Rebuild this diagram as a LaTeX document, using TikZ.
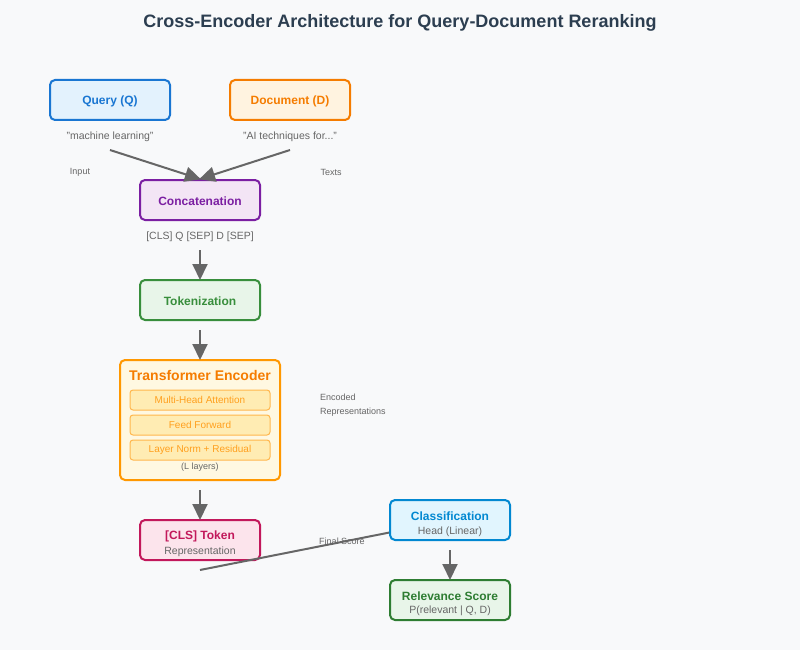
\documentclass[tikz,border=0pt]{standalone}
\usepackage{fontspec}
\setmainfont{Liberation Sans}
\usetikzlibrary{arrows.meta}
\definecolor{bg}{HTML}{F8F9FA}
\definecolor{titlec}{HTML}{2C3E50}
\definecolor{gr}{HTML}{666666}
\definecolor{qfill}{HTML}{E3F2FD}\definecolor{qline}{HTML}{1976D2}
\definecolor{dfill}{HTML}{FFF3E0}\definecolor{dline}{HTML}{F57C00}
\definecolor{cfill}{HTML}{F3E5F5}\definecolor{cline}{HTML}{7B1FA2}
\definecolor{tfill}{HTML}{E8F5E9}\definecolor{tline}{HTML}{388E3C}
\definecolor{efill}{HTML}{FFF8E1}\definecolor{eline}{HTML}{FF9800}
\definecolor{sfill}{HTML}{FFECB3}\definecolor{sline}{HTML}{FFB74D}\definecolor{stext}{HTML}{FFA01E}
\definecolor{kfill}{HTML}{FCE4EC}\definecolor{kline}{HTML}{C2185B}
\definecolor{hfill}{HTML}{E1F5FE}\definecolor{hline}{HTML}{0288D1}
\definecolor{rfill}{HTML}{E8F5E9}\definecolor{rline}{HTML}{2E7D32}
\begin{document}
\begin{tikzpicture}[x=1pt,y=-1pt,
  box/.style={draw, line width=2pt, rounded corners=5pt, minimum width=120pt, minimum height=40pt, inner sep=0pt, align=center},
  lbl/.style={font=\fontsize{12}{14}\selectfont\bfseries, inner sep=0pt},
  note/.style={text=gr, font=\fontsize{10.5}{12}\selectfont, inner sep=0pt},
  small/.style={text=gr, font=\fontsize{9}{11}\selectfont, inner sep=0pt},
  sub/.style={draw=sline, fill=sfill, line width=1pt, rounded corners=3pt, minimum width=140pt, minimum height=20pt, inner sep=0pt, text=stext, font=\fontsize{10}{12}\selectfont},
  arr/.style={draw=gr, line width=2pt, -{Triangle[length=16pt,width=15pt]}, shorten >=-1pt}
]
\useasboundingbox (0,0) rectangle (800,650);
\fill[bg] (0,0) rectangle (800,650);
\node[text=titlec, font=\fontsize{18}{22}\selectfont\bfseries] (title) at (400,23) {Cross-Encoder Architecture for Query-Document Reranking};

\node[box, draw=qline, fill=qfill] (q) at (110,100) {};
\node[lbl, text=qline] (qn) at (110,101) {Query (Q)};
\node[box, draw=dline, fill=dfill] (d) at (290,100) {};
\node[lbl, text=dline] (dn) at (290,101) {Document (D)};
\node[note] (qt) at (110,137) {"machine learning"};
\node[note] (dt) at (290,137) {"AI techniques for..."};
\node[small] (inp) at (80,172) {Input};
\node[small] (txt) at (331,172) {Texts};

\node[box, draw=cline, fill=cfill] (cc) at (200,200) {};
\node[lbl, text=cline] (ccn) at (200,201) {Concatenation};
\coordinate (qs) at (110,150);
\coordinate (ds) at (290,150);
\draw[arr] (qs) -- (cc.north);
\draw[arr] (ds) -- (cc.north);
\node[note] (seq) at (200,237) {[CLS] Q [SEP] D [SEP]};

\node[box, draw=tline, fill=tfill] (tok) at (200,300) {};
\node[lbl, text=tline] (tokn) at (200,301) {Tokenization};
\coordinate (a1) at (200,250);
\draw[arr] (a1) -- (tok.north);

\node[box, draw=eline, fill=efill, minimum width=160pt, minimum height=120pt] (enc) at (200,420) {};
\node[text=dline, font=\fontsize{14}{16}\selectfont\bfseries, inner sep=0pt] (enct) at (200,375) {Transformer Encoder};
\node[sub] (mha) at (200,400) {Multi-Head Attention};
\node[sub] (ff) at (200,425) {Feed Forward};
\node[sub] (ln) at (200,450) {Layer Norm + Residual};
\node[text=gr, font=\fontsize{9}{11}\selectfont, inner sep=0pt] (ll) at (200,467) {(L layers)};
\coordinate (a2) at (200,330);
\draw[arr] (a2) -- (enc.north);
\node[small, anchor=west] (er1) at (320,397) {Encoded};
\node[small, anchor=west] (er2) at (320,412) {Representations};

\node[box, draw=kline, fill=kfill] (cls) at (200,540) {};
\node[lbl, text=kline] (clst) at (200,536.5) {[CLS] Token};
\node[note] (clss) at (200,552) {Representation};
\coordinate (a3) at (200,490);
\draw[arr] (a3) -- (cls.north);

\node[small] (fs) at (342,541) {Final Score};
\coordinate (ce) at (200,570);
\coordinate (hw) at (392,532);
\draw[draw=gr, line width=2pt] (ce) -- (hw);

\node[box, draw=hline, fill=hfill] (head) at (450,520) {};
\node[lbl, text=hline] (headt) at (450,516.5) {Classification};
\node[note] (heads) at (450,532) {Head (Linear)};

\node[box, draw=rline, fill=rfill] (rel) at (450,600) {};
\node[lbl, text=rline] (relt) at (450,596.5) {Relevance Score};
\node[note] (rels) at (450,611) {P(relevant | Q, D)};
\coordinate (a4) at (450,550);
\draw[arr] (a4) -- (rel.north);
\end{tikzpicture}
\end{document}
